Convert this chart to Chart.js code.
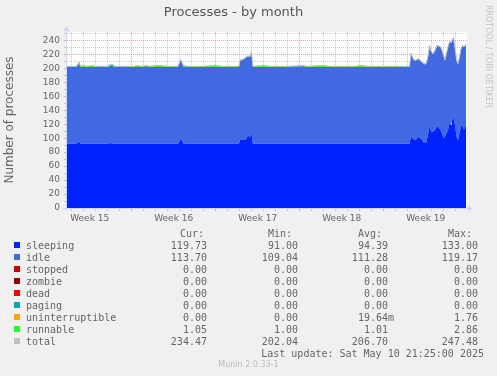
<!DOCTYPE html>
<html><head><meta charset="utf-8">
<script src="https://cdn.jsdelivr.net/npm/chart.js@4/dist/chart.umd.min.js"></script>
<style>
html,body{margin:0;padding:0;background:#F0F0F0;}
#wrap{position:relative;width:497px;height:376px;overflow:hidden;background:#F0F0F0;}
#c{position:absolute;left:0;top:0;}
.m{position:absolute;white-space:pre;font-family:"DejaVu Sans Mono",monospace;font-size:10px;line-height:12px;color:#666;}
.sq{position:absolute;width:6px;height:6px;}
#munin{position:absolute;left:0;width:497px;text-align:center;font-family:"DejaVu Sans",sans-serif;font-size:8px;line-height:10px;color:#bbb;top:360px;}
#rrd{position:absolute;left:483px;top:5px;writing-mode:vertical-rl;font-family:"DejaVu Sans",sans-serif;font-size:8px;line-height:10px;color:#c4c4c4;white-space:nowrap;}
</style></head><body>
<div id="wrap">
<canvas id="c" width="497" height="376"></canvas>
<div id="rrd">RRDTOOL / TOBI OETIKER</div>
<div id="legend"></div>
<div id="munin">Munin 2.0.33-1</div>
</div>
<script>
// ---- data (x = days from the first week boundary) ----
const X_DAYS = [-5.40,-4.60,-4.45,-4.38,-4.28,-4.05,-3.75,-3.25,-3.10,-1.95,-1.80,-1.55,-1.40,0.20,0.45,0.85,1.25,1.45,2.20,3.20,3.85,3.95,4.08,4.20,4.32,4.70,6.00,7.00,7.50,8.94,9.03,9.28,9.52,9.69,9.86,9.98,10.10,11.00,11.50,13.00,14.30,14.60,16.00,16.40,18.50,19.20,19.60,23.15,23.28,23.40,23.53,23.69,23.86,24.03,24.19,24.36,24.53,24.69,24.82,24.94,25.11,25.28,25.44,25.61,25.73,25.86,25.98,26.11,26.23,26.36,26.48,26.61,26.69,26.82,26.94,27.07,27.19,27.32,27.44,27.57,27.69,27.86];
const SLEEPING = [92,92,94,96,92,92,92,92,92,92,93,92,92,92,92,92,92,92,92,92,92,94,100,96,92,92,92,92,92,92,98,98,98,104,101,109,92,92,92,92,92,92,92,92,92,92,92,92,103,100,98,98,102,100,98,93,93,105,117,110,109,112,117,115,112,107,100,102,107,112,121,119,125,130,118,102,97,107,117,118,112,119.73];
const IDLE = [110,110,112,112,110,110,110,110,110,110,111,111,110,110,110,110,111,110,110,110,110,112,112,111,110,110,110,110,110,110,113,114,117,113,115,114,110,110,110,110,111,110,110,110,110,110,110,110,118,115,113,113,111,111,110,113,113,111,115,114,111,113,115,116,118,118,118,109,114,118,116,118,115,113,110,109,109,109,110,114,118,113.70];
const RUNNABLE = [1,1,1,1,1,2,1,2,1,1,2,2,1,1,2,1,1,1,2,1,1,1,1,1,2,1,1,2,1,1,1,1,1,1,1,1,1,2,1,1,1,1,2,1,1,2,1,1,1,1,1,1,1,1,1,1,1,1,1,1,1,1,1,1,1,1,1,1,1,1,1,1,1,1,1,1,1,1,1,1,1,1.05];
const TOTAL = [203,203,207,209,203,204,203,204,203,203,206,205,203,203,204,203,204,203,204,203,203,207,213,208,204,203,203,204,203,203,212,213,216,218,217,224,203,204,203,203,204,203,204,203,203,204,203,203,222,216,212,212,214,212,209,207,207,217,233,225,221,226,233,232,231,226,219,212,222,231,238,238,241,244,229,212,207,217,228,233,231,234.47];

const DAY_TICKS = [-5,-4,-3,-2,-1,0,1,2,3,4,5,6,7,8,9,10,11,12,13,14,15,16,17,18,19,20,21,22,23,24,25,26,27];
const WEEK_BOUNDS = [0,7,14,21];
const WEEK_CENTERS = [-3.5,3.5,10.5,17.5,24.5];
const WEEK_LABELS = ['Week 15','Week 16','Week 17','Week 18','Week 19'];
const Y_TICKS = [0,10,20,30,40,50,60,70,80,90,100,110,120,130,140,150,160,170,180,190,200,210,220,230,240,250];
const Y_LABEL_TICKS = [0,20,40,60,80,100,120,140,160,180,200,220,240];

// legend table
const NAMES = ['sleeping','idle','stopped','zombie','dead','paging','uninterruptible','runnable','total'];
const CUR = [119.73,113.70,0,0,0,0,0,1.05,234.47];
const MIN = [91.00,109.04,0,0,0,0,0,1.00,202.04];
const AVG = [94.39,111.28,0,0,0,0,0.01964,1.01,206.70];
const MAX = [133.00,119.17,0,0,0,0,1.76,2.86,247.48];
const HEADERS = ['Cur:','Min:','Avg:','Max:'];
const LAST_UPDATE = 'Last update: Sat May 10 21:25:00 2025';

// styles
const COLORS = ['#0022ff','#4169e1','#cc0000','#990000','#ff0000','#00aaaa','#ffa500','#22ff22','#c0c0c0'];
const GRID = 'rgba(143,143,143,0.42)';
const MGRID = 'rgba(222,79,79,0.48)';
const AXIS = '#CFD6F8';

function pts(arr){ return X_DAYS.map((x,i)=>({x:x,y:arr[i]})); }

const bgPlugin = {
  id:'bg',
  beforeDraw(chart){
    const {ctx, chartArea:a} = chart;
    ctx.save();
    ctx.fillStyle = '#F0F0F0'; ctx.fillRect(0,0,chart.width,chart.height);
    ctx.fillStyle = '#FFFFFF'; ctx.fillRect(a.left,a.top,a.right-a.left,a.bottom-a.top);
    ctx.restore();
  },
  afterDraw(chart){
    const {ctx, chartArea:a} = chart;
    ctx.save();
    ctx.strokeStyle = AXIS; ctx.fillStyle = AXIS; ctx.lineWidth = 1;
    ctx.beginPath();
    ctx.moveTo(a.left-0.5, a.bottom+3); ctx.lineTo(a.left-0.5, a.top-2);
    ctx.moveTo(a.left-4, a.bottom+0.5); ctx.lineTo(a.right+2, a.bottom+0.5);
    ctx.stroke();
    ctx.beginPath();
    ctx.moveTo(a.left-0.5, a.top-6); ctx.lineTo(a.left-3.5, a.top-1); ctx.lineTo(a.left+2.5, a.top-1); ctx.closePath(); ctx.fill();
    ctx.beginPath();
    ctx.moveTo(a.right+6, a.bottom+0.5); ctx.lineTo(a.right+1, a.bottom-2.5); ctx.lineTo(a.right+1, a.bottom+3.5); ctx.closePath(); ctx.fill();
    ctx.restore();
  }
};

new Chart(document.getElementById('c'), {
  type:'line',
  data:{datasets:[
    {label:'total', data:pts(TOTAL), stack:'tot', borderColor:COLORS[8], borderWidth:1, fill:false, pointRadius:0},
    {label:'sleeping', data:pts(SLEEPING), stack:'p', backgroundColor:COLORS[0], borderWidth:0, fill:'origin', pointRadius:0},
    {label:'idle', data:pts(IDLE), stack:'p', backgroundColor:COLORS[1], borderWidth:0, fill:'-1', pointRadius:0},
    {label:'runnable', data:pts(RUNNABLE), stack:'p', backgroundColor:COLORS[7], borderWidth:0, fill:'-1', pointRadius:0}
  ]},
  options:{
    responsive:false, animation:false, devicePixelRatio:1,
    layout:{padding:{left:0,right:30,top:0,bottom:140}},
    elements:{line:{tension:0}},
    plugins:{
      legend:{display:false}, tooltip:{enabled:false},
      title:{display:true, text:'Processes - by month', color:'#555',
        font:{family:'DejaVu Sans', size:13, weight:'normal'}, padding:{top:5,bottom:11.4}}
    },
    scales:{
      x:{type:'linear', min:-5.39, max:27.94, z:1,
        afterFit(s){ s.height = 28; },
        afterBuildTicks(s){ s.ticks = DAY_TICKS.concat(WEEK_CENTERS).sort((a,b)=>a-b).map(v=>({value:v})); },
        ticks:{autoSkip:false, maxRotation:0, padding:2, color:'#666', font:{family:'DejaVu Sans', size:9},
          callback(v){ const k = WEEK_CENTERS.indexOf(v); return k>=0 ? WEEK_LABELS[k] : ''; }},
        grid:{lineWidth:1, tickLength:3,
          color(c){ const v=c.tick&&c.tick.value; if(WEEK_CENTERS.indexOf(v)>=0) return 'rgba(0,0,0,0)'; return WEEK_BOUNDS.indexOf(v)>=0 ? MGRID : GRID; }},
        border:{display:false, dash:[1,1]}
      },
      y:{type:'linear', stacked:true, min:0, max:252, z:1,
        afterFit(s){ s.width = 67; },
        afterBuildTicks(s){ s.ticks = Y_TICKS.map(v=>({value:v})); },
        ticks:{autoSkip:false, padding:4, color:'#666', font:{family:'DejaVu Sans', size:9},
          callback(v){ return Y_LABEL_TICKS.indexOf(v)>=0 ? String(v) : ''; }},
        grid:{lineWidth:1, tickLength:3,
          color(c){ const v=c.tick&&c.tick.value; return Y_LABEL_TICKS.indexOf(v)>=0 ? MGRID : GRID; }},
        border:{display:false, dash:[1,1]},
        title:{display:true, text:'Number of processes', color:'#666', font:{family:'DejaVu Sans', size:12}, padding:{top:3,bottom:0}}
      }
    }
  },
  plugins:[bgPlugin]
});

// ---- legend (HTML text) ----
function fmt(v){
  if (v > 0 && v < 1) return (v*1000).toFixed(2) + 'm';
  return v.toFixed(2) + ' ';
}
const leg = document.getElementById('legend');
function addText(txt, baseline, opts){
  const d = document.createElement('div');
  d.className = 'm'; d.textContent = txt;
  d.style.top = (baseline - 9.5) + 'px';
  if (opts.left !== undefined) d.style.left = opts.left + 'px';
  if (opts.right !== undefined) { d.style.right = (497 - opts.right) + 'px'; d.style.textAlign = 'right'; }
  leg.appendChild(d);
}
const VAL_EDGES = [213, 304, 394, 484];
const HEAD_EDGES = [204, 292, 382, 472];
HEADERS.forEach((h,j)=>addText(h, 237, {right:HEAD_EDGES[j]}));
NAMES.forEach((n,i)=>{
  const base = 249 + 12*i;
  const sq = document.createElement('div');
  sq.className = 'sq'; sq.style.left = '14px'; sq.style.top = (base - 6.7) + 'px'; sq.style.background = COLORS[i];
  leg.appendChild(sq);
  addText(n, base, {left:26});
  [CUR, MIN, AVG, MAX].forEach((col,j)=>addText(fmt(col[i]), base, {right:VAL_EDGES[j]}));
});
addText(LAST_UPDATE, 357, {right:484});
</script>
</body></html>
